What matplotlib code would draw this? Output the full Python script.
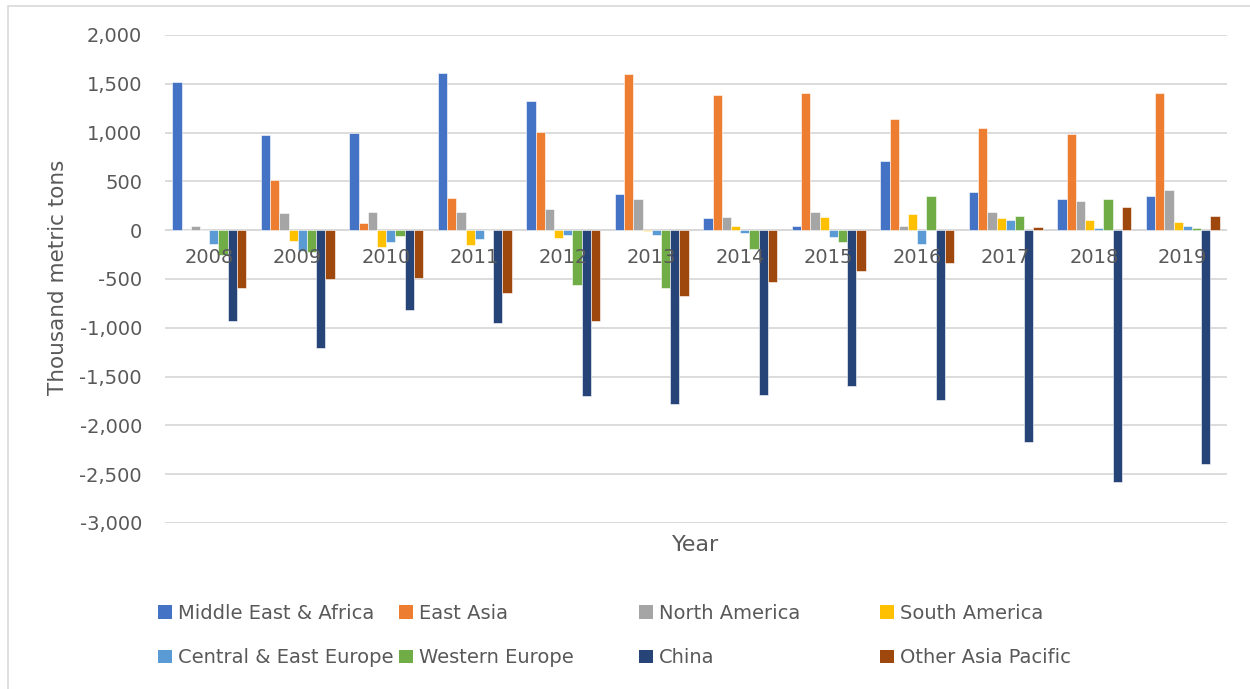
import matplotlib
matplotlib.use("Agg")
import matplotlib.pyplot as plt
from matplotlib.patches import Patch, Rectangle
import numpy as np

# Data (thousand metric tons)
years = ["2008", "2009", "2010", "2011", "2012", "2013",
         "2014", "2015", "2016", "2017", "2018", "2019"]

regions = ["Middle East & Africa", "East Asia", "North America", "South America",
           "Central & East Europe", "Western Europe", "China", "Other Asia Pacific"]

middle_east_africa = [1517, 976, 1000, 1613, 1322, 366, 120, 48, 709, 394, 315, 346]
east_asia = [5, 514, 72, 329, 1007, 1603, 1384, 1408, 1140, 1048, 983, 1404]
north_america = [48, 178, 188, 188, 216, 315, 140, 185, 38, 182, 295, 414]
south_america = [0, -110, -175, -154, -79, -5, 48, 134, 168, 120, 103, 82]
central_east_europe = [-137, -212, -123, -86, -45, -51, -27, -72, -144, 106, 21, 38]
western_europe = [-257, -226, -58, 0, -563, -590, -188, -120, 349, 147, 318, 27]
china = [-935, -1209, -815, -952, -1702, -1781, -1688, -1599, -1736, -2168, -2575, -2394]
other_asia_pacific = [-592, -503, -490, -640, -935, -677, -534, -421, -336, 31, 236, 147]

series = [middle_east_africa, east_asia, north_america, south_america,
          central_east_europe, western_europe, china, other_asia_pacific]

colors = ["#4472C4", "#ED7D31", "#A5A5A5", "#FFC000",
          "#5B9BD5", "#70AD47", "#264478", "#9E480E"]

grey_text = "#595959"
plt.rcParams['font.family'] = ['DejaVu Sans']

fig = plt.figure(figsize=(12.5, 6.89), dpi=100)
ax = fig.add_axes([165 / 1250, 1 - 523 / 689, (1227 - 165) / 1250, 488 / 689])

x = np.arange(len(years))
bar_w = 0.104
n = len(series)
for i, (vals, col) in enumerate(zip(series, colors)):
    offs = (i - (n - 1) / 2) * bar_w
    ax.bar(x + offs, vals, width=bar_w, color=col, edgecolor="white",
           linewidth=0.4, zorder=2)

ax.set_xlim(-0.5, len(years) - 0.5)
ax.set_ylim(-3000, 2000)
ax.set_yticks(np.arange(-3000, 2001, 500))
ax.set_yticklabels([f"{v:,}" for v in range(-3000, 2001, 500)])
ax.tick_params(axis="y", length=0, pad=16.5, labelsize=14, labelcolor=grey_text)
ax.set_xticks([])
ax.grid(axis="y", color="#D9D9D9", linewidth=1.3, zorder=0)
ax.axhline(0, color="#D9D9D9", linewidth=1.3, zorder=1)
for s in ax.spines.values():
    s.set_visible(False)

# category labels sit just under the zero line, over the bars
for xi, yr in zip(x, years):
    ax.annotate(yr, (xi, 0), xytext=(0, -20), textcoords="offset points",
                ha="center", va="center", fontsize=14, color=grey_text, zorder=5)

ax.text(0.5, -(545 - 523) / 488, "Year", transform=ax.transAxes,
        ha="center", va="center", fontsize=16, color=grey_text)
fig.text(58 / 1250, 1 - 277 / 689, "Thousand metric tons", rotation=90,
         ha="center", va="center", fontsize=15.5, color=grey_text)

# legend: 4 columns x 2 rows
col_x = [158, 399, 639, 880]
for c in range(4):
    handles = [Patch(facecolor=colors[c], label=regions[c]),
               Patch(facecolor=colors[c + 4], label=regions[c + 4])]
    fig.legend(handles=handles, loc="upper left",
               bbox_to_anchor=(col_x[c] / 1250, 1 - 604 / 689),
               frameon=False, fontsize=14, handlelength=0.72, handleheight=0.72,
               handletextpad=0.31, labelspacing=1.3, borderaxespad=0,
               borderpad=0, labelcolor=grey_text)

# outer chart frame
fig.patches.append(Rectangle((8 / 1250, -0.01), 1.1, 1 - 6 / 689 + 0.01,
                             transform=fig.transFigure, fill=False,
                             edgecolor="#D9D9D9", linewidth=1.2))

fig.savefig("out.png", dpi=100)
